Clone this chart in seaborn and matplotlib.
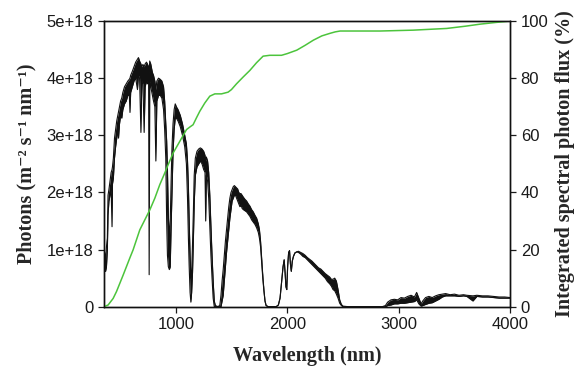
import numpy as np
import pandas as pd
import matplotlib
matplotlib.use('Agg')
import matplotlib.pyplot as plt
import seaborn as sns

# spectrum (photons in units of 1e18 m^-2 s^-1 nm^-1)
# the fine absorption structure is kept as an upper / lower envelope
wavelength_nm = [350, 356, 362, 370, 378, 386, 392, 400, 410, 420, 428, 432, 440, 450, 460, 470,
                 480, 486, 495, 505, 515, 525, 540, 555, 570, 583, 589, 595, 610, 625, 640, 656,
                 665, 675, 687, 695, 705, 716, 725, 737, 745, 756, 761, 766, 775, 790, 800, 812,
                 821, 830, 845, 860, 875, 890, 900, 910, 918, 925, 933, 942, 950, 958, 966, 975,
                 985, 995, 1005, 1020, 1040, 1060, 1080, 1095, 1105, 1113, 1120, 1128, 1135, 1142,
                 1150, 1158, 1165, 1175, 1190, 1205, 1220, 1235, 1250, 1262, 1268, 1274, 1285, 1295,
                 1305, 1315, 1325, 1335, 1345, 1355, 1380, 1395, 1405, 1415, 1425, 1435, 1445, 1455,
                 1465, 1475, 1485, 1495, 1505, 1515, 1525, 1535, 1545, 1555, 1565, 1575, 1585, 1595,
                 1605, 1620, 1635, 1650, 1665, 1680, 1695, 1710, 1725, 1740, 1750, 1760, 1770, 1780,
                 1790, 1800, 1810, 1830, 1900, 1920, 1935, 1950, 1962, 1972, 1980, 1988, 1995, 2003,
                 2012, 2020, 2028, 2036, 2045, 2055, 2068, 2085, 2100, 2120, 2140, 2160, 2180, 2200,
                 2220, 2240, 2260, 2280, 2300, 2320, 2340, 2360, 2380, 2395, 2410, 2425, 2440, 2455,
                 2470, 2485, 2500, 2550, 2850, 2880, 2900, 2930, 2960, 2990, 3020, 3050, 3080, 3110,
                 3140, 3160, 3180, 3200, 3215, 3240, 3270, 3300, 3330, 3360, 3390, 3420, 3460, 3500,
                 3540, 3580, 3610, 3665, 3700, 3750, 3800, 3850, 3900, 3950, 4000]
photons_hi = [0.50, 0.70, 0.95, 0.80, 1.05, 1.20, 1.95, 2.05, 2.20, 2.35, 2.40, 2.45, 2.60, 2.95, 3.10, 3.25,
              3.35, 3.40, 3.50, 3.60, 3.65, 3.75, 3.85, 3.90, 3.95, 3.98, 4.00, 4.05, 4.12, 4.20, 4.28, 4.33,
              4.36, 4.30, 4.25, 4.20, 4.24, 4.20, 4.25, 4.28, 4.25, 4.20, 4.10, 4.30, 4.25, 4.10, 4.05, 3.95,
              3.80, 3.95, 4.00, 3.98, 3.95, 3.85, 3.60, 3.20, 2.90, 2.40, 1.60, 1.20, 1.50, 2.20, 2.80, 3.20,
              3.45, 3.55, 3.50, 3.45, 3.35, 3.20, 3.00, 2.85, 2.55, 2.10, 1.50, 0.90, 0.50, 0.60,
              1.10, 1.70, 2.30, 2.60, 2.72, 2.76, 2.78, 2.76, 2.72, 2.65, 2.55, 2.62, 2.55, 2.35,
              1.95, 1.40, 0.90, 0.45, 0.10, 0.02, 0.00, 0.03, 0.20, 0.45, 0.65, 0.90, 1.15, 1.35,
              1.55, 1.75, 1.90, 2.00, 2.05, 2.10, 2.12, 2.10, 2.08, 2.06, 2.00, 1.98, 1.98, 1.95,
              1.92, 1.88, 1.85, 1.80, 1.76, 1.70, 1.66, 1.60, 1.55, 1.45, 1.35, 1.15, 0.85, 0.55,
              0.30, 0.10, 0.02, 0.00, 0.00, 0.03, 0.15, 0.45, 0.70, 0.82, 0.60, 0.35, 0.30, 0.70,
              0.95, 0.98, 0.75, 0.62, 0.80, 0.88, 0.94, 0.96, 0.97, 0.95, 0.93, 0.90, 0.86, 0.83,
              0.80, 0.76, 0.72, 0.68, 0.66, 0.62, 0.58, 0.55, 0.52, 0.48, 0.48, 0.50, 0.45, 0.30,
              0.12, 0.04, 0.01, 0.00, 0.00, 0.02, 0.08, 0.12, 0.13, 0.12, 0.16, 0.15, 0.18, 0.20,
              0.17, 0.25, 0.15, 0.05, 0.10, 0.16, 0.18, 0.16, 0.19, 0.21, 0.22, 0.23, 0.21, 0.22,
              0.20, 0.21, 0.20, 0.19, 0.20, 0.19, 0.19, 0.18, 0.17, 0.17, 0.16]
photons_lo = [0.40, 0.62, 0.62, 0.62, 0.70, 1.00, 1.60, 1.85, 1.95, 2.05, 1.40, 2.15, 2.25, 2.60, 2.80, 2.95,
              3.10, 2.95, 3.20, 3.35, 3.30, 3.45, 3.55, 3.60, 3.70, 3.70, 3.40, 3.75, 3.85, 3.95, 4.00, 3.80,
              4.05, 4.00, 3.05, 3.95, 3.90, 3.05, 3.85, 3.95, 3.90, 3.95, 0.56, 3.95, 3.85, 3.70, 3.60, 3.50,
              2.55, 3.60, 3.70, 3.70, 3.65, 3.45, 3.10, 2.60, 1.50, 0.90, 0.70, 0.65, 0.70, 1.40, 2.00, 2.70,
              3.10, 3.30, 3.30, 3.25, 3.15, 3.00, 2.80, 2.50, 1.90, 1.20, 0.70, 0.25, 0.08, 0.25,
              0.60, 1.20, 1.80, 2.30, 2.45, 2.50, 2.55, 2.50, 2.40, 2.35, 1.50, 2.30, 2.20, 1.90,
              1.40, 0.90, 0.50, 0.15, 0.00, 0.00, 0.00, 0.00, 0.00, 0.10, 0.20, 0.45, 0.70, 0.95,
              1.15, 1.35, 1.55, 1.70, 1.85, 1.90, 1.95, 1.95, 1.90, 1.85, 1.80, 1.75, 1.78, 1.72,
              1.70, 1.68, 1.66, 1.62, 1.58, 1.52, 1.48, 1.44, 1.38, 1.30, 1.20, 1.05, 0.78, 0.50,
              0.28, 0.10, 0.02, 0.00, 0.00, 0.03, 0.15, 0.45, 0.70, 0.82, 0.60, 0.35, 0.30, 0.70,
              0.95, 0.98, 0.75, 0.62, 0.80, 0.88, 0.94, 0.96, 0.95, 0.92, 0.88, 0.86, 0.82, 0.78,
              0.74, 0.70, 0.66, 0.62, 0.58, 0.54, 0.50, 0.44, 0.40, 0.36, 0.30, 0.28, 0.22, 0.15,
              0.06, 0.02, 0.00, 0.00, 0.00, 0.00, 0.02, 0.03, 0.05, 0.05, 0.06, 0.06, 0.07, 0.08,
              0.09, 0.12, 0.05, 0.01, 0.02, 0.04, 0.06, 0.07, 0.10, 0.13, 0.17, 0.19, 0.19, 0.19,
              0.18, 0.19, 0.18, 0.10, 0.18, 0.17, 0.17, 0.16, 0.15, 0.15, 0.15]

# integrated spectral photon flux (%)
cum_wl = [354, 393, 438, 468, 498, 528, 557, 587, 617, 647, 677, 722, 767, 812, 856, 901,
          931, 976, 1036, 1096, 1126, 1155, 1185, 1215, 1260, 1305, 1350, 1410, 1469, 1499,
          1544, 1604, 1664, 1724, 1783, 1843, 1948, 2000, 2085, 2160, 2234, 2310, 2384, 2430,
          2474, 2600, 2832, 3128, 3430, 3600, 3729, 3870, 4000]
cum_pct = [0.0, 0.6, 2.9, 5.3, 8.2, 11.1, 14.0, 17.0, 19.9, 23.4, 26.9, 30.4, 33.9, 38.0, 42.7, 46.8,
           49.7, 53.8, 57.9, 62.0, 62.9, 63.7, 66.1, 68.4, 71.3, 73.7, 74.5, 74.5, 75.1, 76.0,
           78.0, 80.4, 82.7, 85.4, 87.7, 88.0, 88.0, 88.6, 89.8, 91.5, 93.3, 94.8, 95.7, 96.2,
           96.5, 96.5, 96.5, 96.8, 97.4, 98.2, 98.9, 99.5, 100.0]

x_ticks = [1000, 2000, 3000, 4000]
y_ticks = [0, 1e18, 2e18, 3e18, 4e18, 5e18]
y_tick_labels = ['0', '1e+18', '2e+18', '3e+18', '4e+18', '5e+18']
pct_ticks = [0, 20, 40, 60, 80, 100]

sns.set_style('ticks')
plt.rcParams['font.family'] = ['Liberation Sans', 'DejaVu Sans']

spec = pd.DataFrame({'wl': wavelength_nm,
                     'hi': np.array(photons_hi) * 1e18,
                     'lo': np.array(photons_lo) * 1e18})
cum = pd.DataFrame({'wl': cum_wl, 'pct': cum_pct})

fig = plt.figure(figsize=(5.74, 3.72), dpi=100)
ax = fig.add_axes([0.181, 0.1755, 0.708, 0.768])
ax2 = ax.twinx()

ax.fill_between(spec['wl'], spec['lo'], spec['hi'], color='#111111', lw=0)
sns.lineplot(data=spec, x='wl', y='hi', ax=ax, color='#111111', lw=0.8, estimator=None)
sns.lineplot(data=spec, x='wl', y='lo', ax=ax, color='#111111', lw=0.8, estimator=None)
sns.lineplot(data=cum, x='wl', y='pct', ax=ax2, color='#4cc43c', lw=1.1, estimator=None)

ax.set_xlim(355, 4000)
ax.set_ylim(0, 5e18)
ax2.set_ylim(0, 100)

ax.set_xticks(x_ticks)
ax.set_xticklabels([str(t) for t in x_ticks])
ax.set_yticks(y_ticks)
ax.set_yticklabels(y_tick_labels)
ax2.set_yticks(pct_ticks)

for a in (ax, ax2):
    a.tick_params(direction='out', length=4, width=0.9, labelsize=12, colors='#1a1a1a')
    for s in a.spines.values():
        s.set_visible(True)
        s.set_linewidth(1.0)
        s.set_color('#111111')

label_font = dict(family=['Liberation Serif', 'DejaVu Serif'], weight='bold', size=14.5)
ax.set_xlabel('Wavelength (nm)', labelpad=10, **label_font)
ax.set_ylabel('Photons (m\u207b\u00b2 s\u207b\u00b9 nm\u207b\u00b9)', labelpad=7, **label_font)
ax2.set_ylabel('Integrated spectral photon flux (%)', labelpad=5, **label_font)

fig.savefig('out.png', dpi=100)
